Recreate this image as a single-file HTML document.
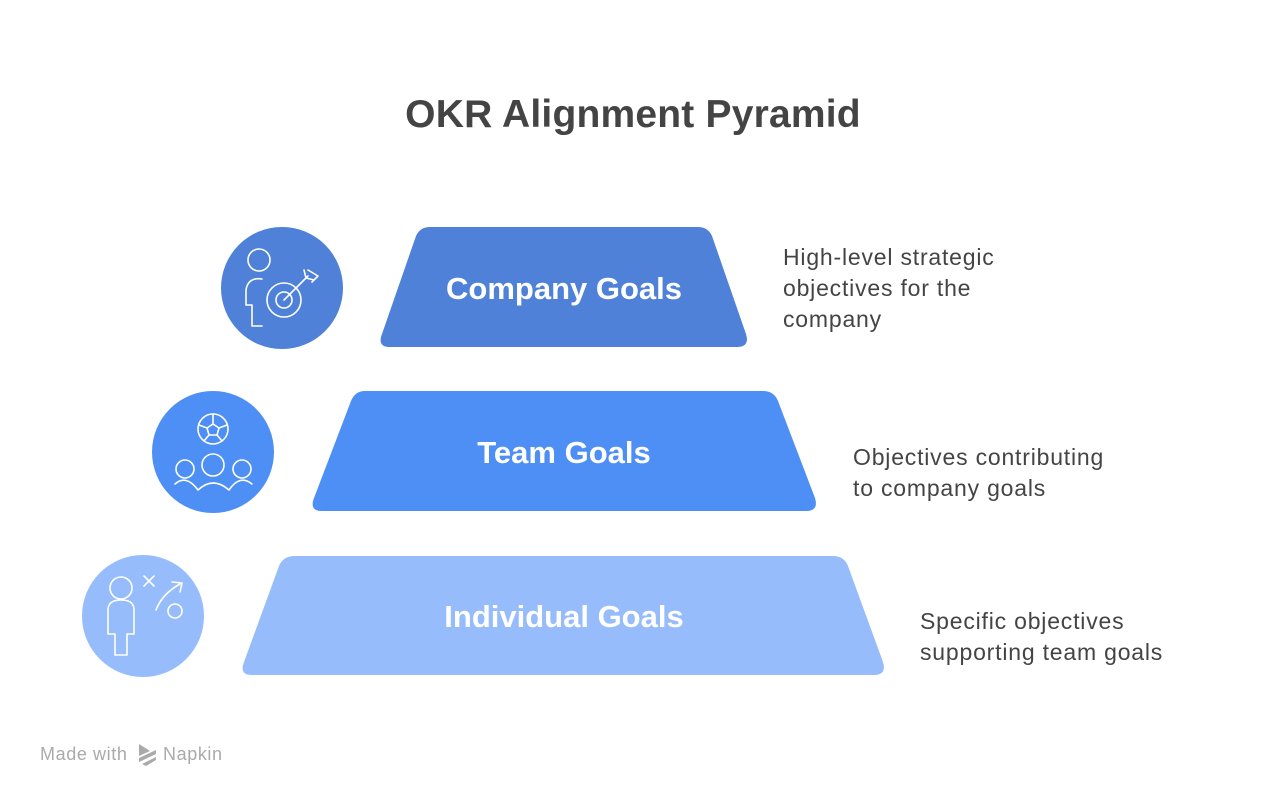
<!DOCTYPE html>
<html><head><meta charset="utf-8"><style>
html,body{margin:0;padding:0;background:#fff;}
body{width:1267px;height:800px;overflow:hidden;position:relative;font-family:"Liberation Sans",sans-serif;}
svg{position:absolute;left:0;top:0;}
</style></head><body>
<svg width="1267" height="800" viewBox="0 0 1267 800" xmlns="http://www.w3.org/2000/svg">
<text x="633" y="127" text-anchor="middle" font-family="Liberation Sans, sans-serif" font-weight="bold" font-size="39" fill="#444" letter-spacing="0.2">OKR Alignment Pyramid</text>

<path d="M430,227 L698,227 Q708,227 712,236 L746,334 Q750,347 737,347 L390,347 Q377,347 382,334 L416,236 Q420,227 430,227Z" fill="#4E81D7"/>
<path d="M365,391 L763,391 Q774,391 778,401 L815,498 Q819,511 806,511 L322,511 Q309,511 314,498 L351,401 Q355,391 365,391Z" fill="#4E8FF5"/>
<path d="M295,556 L833,556 Q844,556 848,566 L883,662 Q887,675 874,675 L252,675 Q239,675 244,662 L279,566 Q283,556 295,556Z" fill="#96BCFC"/>

<g font-family="Liberation Sans, sans-serif" font-weight="bold" font-size="31" fill="#fff" text-anchor="middle">
<text x="564" y="299">Company Goals</text>
<text x="564" y="463">Team Goals</text>
<text x="564" y="627">Individual Goals</text>
</g>

<g font-family="Liberation Sans, sans-serif" font-size="23" fill="#444" letter-spacing="0.8">
<text x="783" y="265">High-level strategic</text>
<text x="783" y="296">objectives for the</text>
<text x="783" y="327">company</text>
<text x="853" y="465">Objectives contributing</text>
<text x="853" y="496">to company goals</text>
<text x="920" y="629">Specific objectives</text>
<text x="920" y="660">supporting team goals</text>
</g>

<circle cx="282" cy="288" r="61" fill="#4E81D7"/>
<circle cx="213" cy="452" r="61" fill="#4E8FF5"/>
<circle cx="143" cy="616" r="61" fill="#96BCFC"/>

<g fill="none" stroke="#fff" stroke-width="1.6" stroke-linecap="round" stroke-linejoin="round">
<circle cx="259" cy="260" r="11"/>
<path d="M262,279 Q248,277 246,290 L246,305 L252,305 L252,326 L262,326"/>
<circle cx="284" cy="300" r="17"/>
<circle cx="284" cy="300" r="8"/>
<path d="M284,300 L308,276 M304,270 L306,278 L314,280 M308,270 L318,276 L312,282"/>
<circle cx="213" cy="429" r="15"/>
<path d="M213,424 L219,428 L217,435 L209,435 L207,428Z M213,414 L213,424 M219,428 L227,425 M217,435 L222,441 M209,435 L204,441 M207,428 L199,425"/>
<circle cx="213" cy="465" r="11"/>
<circle cx="185" cy="469" r="9"/>
<circle cx="242" cy="469" r="9"/>
<path d="M175,484 Q186,474 198,490 Q213,476 229,490 Q240,474 252,484"/>
<circle cx="121" cy="588" r="11"/>
<path d="M108,634 L108,610 Q108,600 121,600 Q134,600 134,610 L134,634 L127,634 L127,655 L115,655 L115,634Z"/>
<path d="M144,576 L154,586 M154,576 L144,586"/>
<path d="M156,610 Q162,594 180,584 M172,582 L182,583 L180,592"/>
<circle cx="175" cy="611" r="7"/>
</g>

<text x="40" y="760" font-family="Liberation Sans, sans-serif" font-size="18" fill="#aaa" letter-spacing="0.6">Made with</text>
<g fill="#aaa"><path d="M139,744 L150,751 L139,756Z M139,758 L156,750 L156,754 L139,762Z M142,764 L156,757 L156,760 L146,766Z"/></g>
<text x="163" y="760" font-family="Liberation Sans, sans-serif" font-size="18" fill="#aaa" letter-spacing="0.6">Napkin</text>
</svg>
</body></html>
